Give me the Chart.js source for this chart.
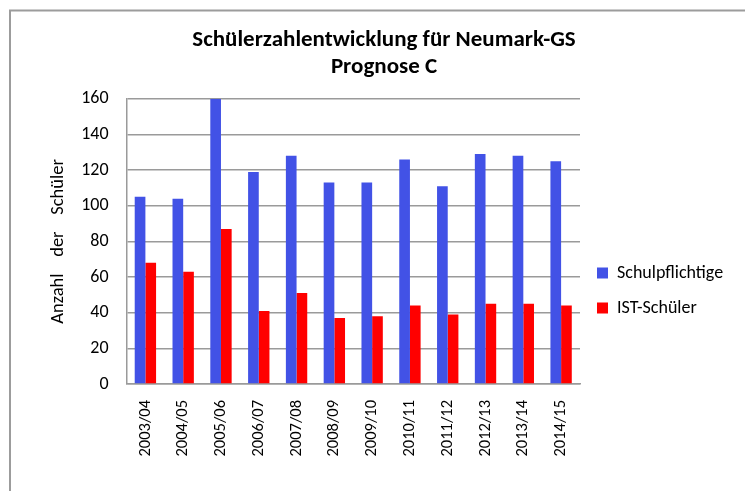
<!DOCTYPE html>
<html>
<head>
<meta charset="utf-8">
<script src="https://cdn.jsdelivr.net/npm/chart.js@4.4.1/dist/chart.umd.min.js"></script>
<style>
  html, body { margin: 0; padding: 0; background: #ffffff; }
  #wrap { width: 745px; height: 491px; }
</style>
</head>
<body>
<div id="wrap"><canvas id="c" width="745" height="491"></canvas></div>
<script>
const categories = ["2003/04","2004/05","2005/06","2006/07","2007/08","2008/09","2009/10","2010/11","2011/12","2012/13","2013/14","2014/15"];
const schulpflichtige = [105, 104, 160, 119, 128, 113, 113, 126, 111, 129, 128, 125];
const istSchueler = [68, 63, 87, 41, 51, 37, 38, 44, 39, 45, 45, 44];
const seriesNames = ["Schulpflichtige", "IST-Schüler"];
const titleLines = ["Schülerzahlentwicklung für Neumark-GS", "Prognose C"];
const yAxisTitle = "Anzahl    der    Schüler";
const yMin = 0, yMax = 160, yStep = 20;

const FONT = "Carlito, Lato, 'Noto Sans', sans-serif";

const framePlugin = {
  id: 'frame',
  beforeDraw(chart) {
    const ctx = chart.ctx;
    ctx.save();
    ctx.fillStyle = '#ffffff';
    ctx.fillRect(0, 0, chart.width, chart.height);
    ctx.strokeStyle = '#9c9c9c';
    ctx.lineWidth = 2;
    ctx.strokeRect(10, 10.5, 800, 600);
    ctx.restore();
  }
};

new Chart(document.getElementById('c'), {
  type: 'bar',
  data: {
    labels: categories,
    datasets: [
      { label: seriesNames[0], data: schulpflichtige, backgroundColor: '#4252E6', borderWidth: 0 },
      { label: seriesNames[1], data: istSchueler, backgroundColor: '#FF0000', borderWidth: 0 }
    ]
  },
  options: {
    responsive: false,
    animation: false,
    devicePixelRatio: 1,
    layout: { padding: { left: 35, right: 12, top: 0, bottom: 0 } },
    datasets: { bar: { categoryPercentage: 0.565, barPercentage: 1.0 } },
    plugins: {
      title: {
        display: true,
        text: titleLines,
        color: '#000000',
        font: { family: FONT, size: 23, weight: 'bold', lineHeight: 1.17 },
        padding: { top: 27, bottom: 18 }
      },
      legend: {
        display: true,
        position: 'right',
        align: 'start',
        maxWidth: 153,
        title: { display: true, text: ' ', font: { size: 10, lineHeight: 1 }, padding: { top: 237, bottom: 0 } },
        labels: {
          boxWidth: 11,
          boxHeight: 11,
          padding: 17,
          color: '#000000',
          font: { family: FONT, size: 18 }
        }
      },
      tooltip: { enabled: false }
    },
    scales: {
      x: {
        grid: { display: false, drawTicks: false },
        border: { display: true, color: '#9a9a9a', width: 1.5 },
        ticks: {
          color: '#000000',
          font: { family: FONT, size: 16.5 },
          minRotation: 90,
          maxRotation: 90,
          padding: 16,
          autoSkip: false
        },
        afterFit(scale) { scale.height = 107; }
      },
      y: {
        min: yMin,
        max: yMax,
        grid: { color: '#9a9a9a', lineWidth: 1.5, drawTicks: false },
        border: { display: true, color: '#9a9a9a', width: 1.5 },
        ticks: {
          stepSize: yStep,
          color: '#000000',
          font: { family: FONT, size: 18 },
          padding: 18
        },
        title: {
          display: true,
          text: yAxisTitle,
          color: '#000000',
          font: { family: FONT, size: 18.5 },
          padding: { top: 12, bottom: 0 }
        },
        afterFit(scale) { scale.width = 91.5; }
      }
    }
  },
  plugins: [framePlugin]
});
</script>
</body>
</html>
